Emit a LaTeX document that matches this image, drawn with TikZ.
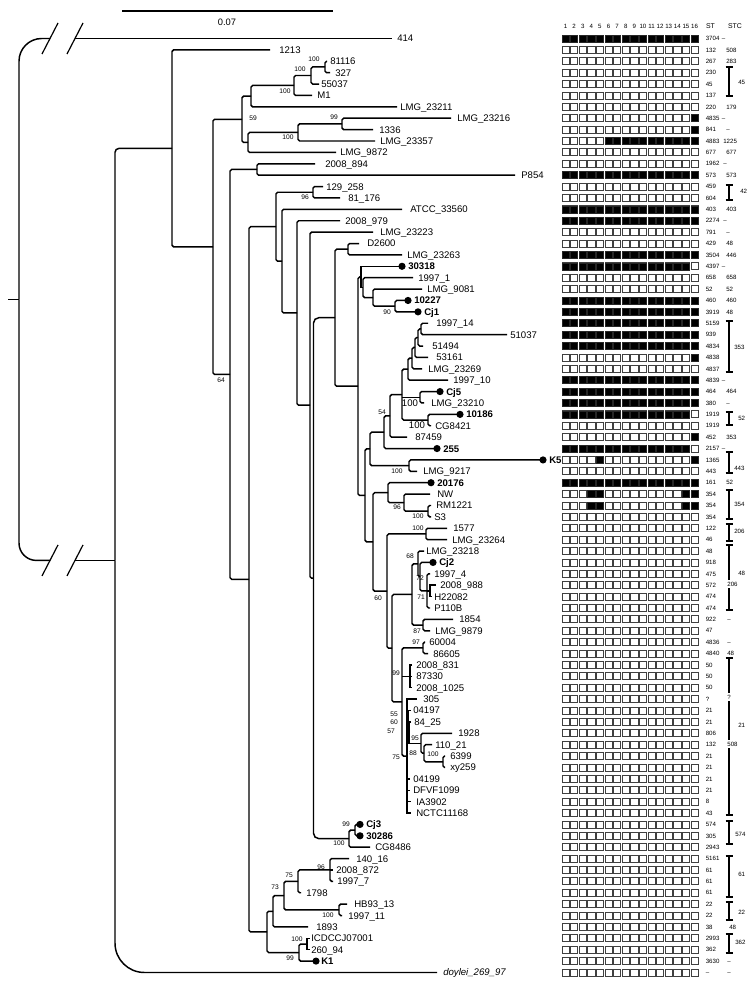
\documentclass[tikz,border=0pt]{standalone}
\usepackage{fontspec}
\setmainfont{Liberation Sans}
\usetikzlibrary{calc}
\newcommand\rowy[1]{38.5+(#1-1)*11.39}
\newcommand\tleaf[4]{\coordinate (L#1) at (#2,{\rowy{#1}}); \node[lab] (T#1) at (#3,{\rowy{#1}}) {#4};}
\newcommand\tdleaf[4]{\coordinate (L#1) at (#2,{\rowy{#1}}); \fill (L#1) circle (2.7pt); \node[lab,font=\fontsize{7.2}{8}\selectfont\bfseries] (T#1) at (#3,{\rowy{#1}}) {#4};}
\newcommand\tileaf[4]{\coordinate (L#1) at (#2,{\rowy{#1}}); \node[lab,font=\fontsize{7.2}{8}\selectfont\itshape] (T#1) at (#3,{\rowy{#1}}) {#4};}
\newcommand\tinode[4]{\coordinate (#1m) at ($(#3)!0.5!(#4)$); \coordinate (#1) at ($(#2,0)!(#1m)!(#2,100)$);}
\newcommand\tedges[4][]{\draw[br,#1] (#3) -| (#2) |- (#4);}
\newcommand\tmid[2]{\draw[br] (#1 |- #2) -- (#2);}
\newcommand\tbs[4]{\node[boot] (#1) at (#2,#3) {#4};}
\begin{document}
\begin{tikzpicture}[x=0.75pt,y=-0.75pt,
  br/.style={line width=1.1pt, rounded corners=1.2pt},
  lab/.style={anchor=west, inner sep=0pt, text height=5.2pt, text depth=0pt, font=\fontsize{7.2}{8}\selectfont},
  boot/.style={inner sep=0pt, font=\fontsize{5}{6}\selectfont},
  gtxt/.style={anchor=west, inner sep=0pt, text height=3.3pt, text depth=0pt, font=\fontsize{4.6}{5}\selectfont},
  wbox/.style={draw=black!75, line width=0.6pt, fill=white},
  bbox/.style={fill=black, draw=black!85, line width=0.4pt},
  brk/.style={line width=0.8pt}]
\useasboundingbox (0,0) rectangle (750,987);
\fill[white] (0,0) rectangle (750,987);
% scale bar
\coordinate (SB1) at (122,11); \coordinate (SB2) at (333,11);
\draw[line width=1pt] (SB1) -- (SB2);
\node[inner sep=0pt, font=\fontsize{7}{8}\selectfont] (SBL) at (227,22) {0.07};
% leaves
\tleaf{1}{392}{397}{414}
\tleaf{2}{270}{279}{1213}
\tleaf{3}{327}{330}{81116}
\tleaf{4}{330}{335}{327}
\tleaf{5}{319}{321}{55037}
\tleaf{6}{312}{317}{M1}
\tleaf{7}{397}{400}{LMG\_23211}
\tleaf{8}{451}{457}{LMG\_23216}
\tleaf{9}{373}{379}{1336}
\tleaf{10}{375}{380}{LMG\_23357}
\tleaf{11}{336}{340}{LMG\_9872}
\tleaf{12}{315}{325}{2008\_894}
\tleaf{13}{515}{521}{P854}
\tleaf{14}{323}{326}{129\_258}
\tleaf{15}{340}{348}{81\_176}
\tleaf{16}{402}{410}{ATCC\_33560}
\tleaf{17}{340}{345}{2008\_979}
\tleaf{18}{373}{380}{LMG\_23223}
\tleaf{19}{359}{367}{D2600}
\tleaf{20}{402}{407}{LMG\_23263}
\tdleaf{21}{402}{408}{30318}
\tleaf{22}{413}{418}{1997\_1}
\tleaf{23}{422}{427}{LMG\_9081}
\tdleaf{24}{408}{414}{10227}
\tdleaf{25}{418}{424}{Cj1}
\tleaf{26}{428}{436}{1997\_14}
\tleaf{27}{507}{510}{51037}
\tleaf{28}{423}{432}{51494}
\tleaf{29}{428}{436}{53161}
\tleaf{30}{422}{428}{LMG\_23269}
\tleaf{31}{448}{453}{1997\_10}
\tdleaf{32}{440}{446}{Cj5}
\tleaf{33}{424}{431}{LMG\_23210}
\tdleaf{34}{460}{466}{10186}
\tleaf{35}{431}{435}{CG8421}
\tleaf{36}{407}{415}{87459}
\tdleaf{37}{437}{443}{255}
\tdleaf{38}{543}{549}{K5}
\tleaf{39}{417}{423}{LMG\_9217}
\tdleaf{40}{431}{437}{20176}
\tleaf{41}{430}{437}{NW}
\tleaf{42}{431}{436}{RM1221}
\tleaf{43}{431}{434}{S3}
\tleaf{44}{447}{453}{1577}
\tleaf{45}{447}{452}{LMG\_23264}
\tleaf{46}{424}{426}{LMG\_23218}
\tdleaf{47}{433}{439}{Cj2}
\tleaf{48}{430}{434}{1997\_4}
\tleaf{49}{436}{440}{2008\_988}
\tleaf{50}{432}{434}{H22082}
\tleaf{51}{430}{434}{P110B}
\tleaf{52}{453}{459}{1854}
\tleaf{53}{430}{435}{LMG\_9879}
\tleaf{54}{425}{429}{60004}
\tleaf{55}{428}{433}{86605}
\tleaf{56}{412}{416}{2008\_831}
\tleaf{57}{412}{416}{87330}
\tleaf{58}{412}{416}{2008\_1025}
\tleaf{59}{417}{423}{305}
\tleaf{60}{411}{413}{04197}
\tleaf{61}{411}{414}{84\_25}
\tleaf{62}{452}{458}{1928}
\tleaf{63}{432}{435}{110\_21}
\tleaf{64}{445}{450}{6399}
\tleaf{65}{445}{450}{xy259}
\tleaf{66}{410}{413}{04199}
\tleaf{67}{410}{413}{DFVF1099}
\tleaf{68}{411}{416}{IA3902}
\tleaf{69}{411}{416}{NCTC11168}
\tdleaf{70}{360}{366}{Cj3}
\tdleaf{71}{360}{366}{30286}
\tleaf{72}{370}{375}{CG8486}
\tleaf{73}{349}{356}{140\_16}
\tleaf{74}{333}{336}{2008\_872}
\tleaf{75}{333}{337}{1997\_7}
\tleaf{76}{301}{306}{1798}
\tleaf{77}{347}{354}{HB93\_13}
\tleaf{78}{342}{348}{1997\_11}
\tleaf{79}{308}{316}{1893}
\tleaf{80}{309.5}{311}{ICDCCJ07001}
\tleaf{81}{309.5}{311}{260\_94}
\tdleaf{82}{316}{321}{K1}
\tileaf{83}{437}{443}{doylei\_269\_97}
% internal nodes
\tinode{N325}{325}{L3}{L4}
\tinode{N311}{311}{N325}{L5}
\tinode{N294}{294}{N311}{L6}
\tinode{N251}{251}{N294}{L7}
\tinode{N342}{342}{L8}{L9}
\tinode{N298}{298}{N342}{L10}
\tinode{N248}{248}{N298}{L11}
\tinode{N242}{242}{N251}{N248}
\tinode{N257}{257}{L12}{L13}
\tinode{N313b}{313}{L14}{L15}
\tinode{N348}{348}{L19}{L20}
\tinode{N395}{395}{L24}{L25}
\tinode{N373u}{373}{L23}{N395}
\tinode{N363}{363}{L22}{N373u}
\tinode{N361}{361}{L21}{N363}
\tinode{N421c}{421}{L26}{L27}
\tinode{N418c}{418}{N421c}{L28}
\tinode{N415}{415}{N418c}{L29}
\tinode{N412c}{412}{N415}{L30}
\tinode{N408}{408}{N412c}{L31}
\tinode{N420c}{420}{L32}{L33}
\tinode{N428}{428}{L34}{L35}
\tinode{N402b}{402}{N408}{N428}
\tinode{N390}{390}{N402b}{L36}
\tinode{N384}{384}{N390}{L37}
\tinode{N409}{409}{L38}{L39}
\tinode{N370}{370}{N384}{N409}
\tinode{N428b}{428}{L42}{L43}
\tinode{N404}{404}{L41}{N428b}
\tinode{N388}{388}{L40}{N404}
\tinode{N426}{426}{L44}{L45}
\tinode{N430}{430}{L49}{L50}
\tinode{N427}{427}{L48}{L51}
\tinode{N420}{420}{L47}{N427}
\tinode{N418}{418}{L46}{N420}
\tinode{N423b}{423}{L52}{L53}
\tinode{N412}{412}{N418}{N423b}
\tinode{N423}{423}{L54}{L55}
\tinode{N410}{410}{L56}{L58}
\tinode{N443}{443}{L64}{L65}
\tinode{N424}{424}{L63}{N443}
\tinode{N421}{421}{L62}{N424}
\tinode{N407b}{409}{L61}{N421}
\tinode{N407a}{408}{L60}{N407b}
\tinode{N407}{407}{L59}{L69}
\tinode{N402}{402}{N423}{N407}
\tinode{N392}{392}{N412}{N402}
\tinode{N387}{387}{N426}{N392}
\tinode{N373}{373}{N388}{N387}
\tinode{N365}{365}{N370}{N373}
\tinode{N358}{358}{N361}{N365}
\tinode{N335}{335}{N348}{N358}
\tinode{N355}{355}{L70}{L71}
\tinode{N349}{349}{N355}{L72}
\tinode{N313}{313.5}{N335}{N349}
\tinode{N310}{310}{L18}{N313}
\tinode{N295}{297}{L17}{N310}
\tinode{N282}{282}{L16}{N295}
\tinode{N276}{276}{N313b}{N282}
\tinode{N330}{330}{L73}{L75}
\tinode{N298b}{298}{N330}{L76}
\tinode{N339}{339}{L77}{L78}
\tinode{N285}{284}{N298b}{N339}
\tinode{N273}{273}{N285}{L79}
\tinode{N307}{307}{L80}{L81}
\tinode{N299}{299}{N307}{L82}
\tinode{N267}{267}{N273}{N299}
\tinode{N249}{249}{N276}{N267}
\tinode{N230}{230}{N257}{N249}
\tinode{N213}{213}{N242}{N230}
\tinode{N172}{172}{L2}{N213}
\tinode{N115}{115}{N172}{L83}
\tinode{R}{19}{L1}{N115}
% edges
\tedges{N325}{L3}{L4}
\tedges{N311}{N325}{L5}
\tedges{N294}{N311}{L6}
\tedges{N251}{N294}{L7}
\tedges{N342}{L8}{L9}
\tedges{N298}{N342}{L10}
\tedges{N248}{N298}{L11}
\tedges{N242}{N251}{N248}
\tedges{N257}{L12}{L13}
\tedges{N313b}{L14}{L15}
\tedges{N348}{L19}{L20}
\tedges{N395}{L24}{L25}
\tedges{N373u}{L23}{N395}
\tedges{N363}{L22}{N373u}
\tedges[sharp corners]{N361}{L21}{N363}
\tedges{N421c}{L26}{L27}
\tedges{N418c}{N421c}{L28}
\tedges{N415}{N418c}{L29}
\tedges{N412c}{N415}{L30}
\tedges{N408}{N412c}{L31}
\tedges{N420c}{L32}{L33}
\tedges{N428}{L34}{L35}
\tedges{N402b}{N408}{N428} \tmid{N402b}{N420c}
\tedges{N390}{N402b}{L36}
\tedges{N384}{N390}{L37}
\tedges{N409}{L38}{L39}
\tedges{N370}{N384}{N409}
\tedges{N428b}{L42}{L43}
\tedges{N404}{L41}{N428b}
\tedges{N388}{L40}{N404}
\tedges{N426}{L44}{L45}
\tedges[sharp corners]{N430}{L49}{L50}
\tedges{N427}{L48}{L51} \tmid{N427}{N430}
\tedges{N420}{L47}{N427}
\tedges{N418}{L46}{N420}
\tedges{N423b}{L52}{L53}
\tedges{N412}{N418}{N423b}
\tedges{N423}{L54}{L55}
\tedges[sharp corners]{N410}{L56}{L58} \tmid{N410}{L57}
\tedges{N443}{L64}{L65}
\tedges{N424}{L63}{N443}
\tedges{N421}{L62}{N424}
\tedges[sharp corners]{N407b}{L61}{N421}
\tedges[sharp corners]{N407a}{L60}{N407b}
\tedges[sharp corners]{N407}{L59}{L69} \tmid{N407}{N407a} \tmid{N407}{L66} \tmid{N407}{L67} \tmid{N407}{L68}
\tedges{N402}{N423}{N407} \tmid{N402}{N410}
\tedges{N392}{N412}{N402}
\tedges{N387}{N426}{N392}
\tedges{N373}{N388}{N387}
\tedges{N365}{N370}{N373}
\tedges{N358}{N361}{N365}
\tedges{N335}{N348}{N358}
\tedges{N355}{L70}{L71}
\tedges{N349}{N355}{L72}
\tedges[rounded corners=4pt]{N313}{N335}{N349}
\tedges{N310}{L18}{N313}
\tedges{N295}{L17}{N310}
\tedges{N282}{L16}{N295}
\tedges{N276}{N313b}{N282}
\tedges{N330}{L73}{L75} \tmid{N330}{L74}
\tedges{N298b}{N330}{L76}
\tedges{N339}{L77}{L78}
\tedges{N285}{N298b}{N339}
\tedges{N273}{N285}{L79}
\tedges[sharp corners]{N307}{L80}{L81}
\tedges{N299}{N307}{L82}
\tedges{N267}{N273}{N299}
\tedges{N249}{N276}{N267}
\tedges{N230}{N257}{N249}
\tedges{N213}{N242}{N230}
\tedges{N172}{L2}{N213}
\draw[br,rounded corners=3pt] (N172) -| (N115);
\draw[br,rounded corners=22pt] (N115) |- (L83);
% root with breaks
\coordinate (R0) at (8,0 |- R);
\draw[br] (R0) -- (R);
\coordinate (B1a) at (50,0 |- L1); \coordinate (B1b) at (75,0 |- L1);
\coordinate (B2a) at (50,0 |- N115); \coordinate (B2b) at (75,0 |- N115);
\draw[br,rounded corners=17pt] (R) |- (B1a);
\draw[br] (B1b) -- (L1);
\draw[br,rounded corners=13pt] (R) |- (B2a);
\draw[br] (B2b) -- (N115);
\draw[line width=0.9pt] ($(B1a)+(-8,15.5)$) -- ($(B1a)+(8,-15.5)$);
\draw[line width=0.9pt] ($(B1b)+(-8,15.5)$) -- ($(B1b)+(8,-15.5)$);
\draw[line width=0.9pt] ($(B2a)+(-8,15.5)$) -- ($(B2a)+(8,-15.5)$);
\draw[line width=0.9pt] ($(B2b)+(-8,15.5)$) -- ($(B2b)+(8,-15.5)$);
% bootstrap values
\tbs{b1}{314}{59.5}{100}
\tbs{b2}{300}{69}{100}
\tbs{b3}{285}{91}{100}
\tbs{b4}{253}{118}{59}
\tbs{b5}{334}{117}{99}
\tbs{b6}{288}{137.5}{100}
\tbs{b7}{305}{197}{96}
\tbs{b8}{221}{380}{64}
\tbs{b9}{387}{312}{90}
\tbs{b10}{382}{412}{54}
\node[lab,anchor=center] (b11) at (410,403) {100};
\node[lab,anchor=center] (b12) at (417,425) {100};
\tbs{b13}{397}{471}{100}
\tbs{b14}{397}{507}{96}
\tbs{b15}{418}{516}{100}
\tbs{b16}{418}{528}{100}
\tbs{b17}{410}{556}{68}
\tbs{b18}{420}{578}{72}
\tbs{b19}{421}{597}{71}
\tbs{b20}{417}{631}{87}
\tbs{b21}{378}{598}{60}
\tbs{b22}{416}{642}{97}
\tbs{b23}{396}{673}{99}
\tbs{b24}{394}{714}{55}
\tbs{b25}{394}{722}{60}
\tbs{b26}{391}{731}{57}
\tbs{b27}{396}{757}{75}
\tbs{b28}{415}{738}{95}
\tbs{b29}{413}{753}{88}
\tbs{b30}{433}{754}{100}
\tbs{b31}{346}{824}{99}
\tbs{b32}{339}{843}{100}
\tbs{b33}{321}{867}{96}
\tbs{b34}{289}{875}{75}
\tbs{b35}{275}{887}{73}
\tbs{b36}{328}{915}{100}
\tbs{b37}{297}{939}{100}
\tbs{b38}{290}{958}{99}
% grid
\foreach \r in {1,...,83}{
  \foreach \c in {1,...,16}{
    \draw[wbox] ({561.9+(\c-1)*8.6},{\rowy{\r}-3.5}) rectangle ++(7.2,7);
  }
}
\foreach \r/\a/\b in {1/1/16,8/16/16,9/16/16,10/6/16,13/1/16,16/1/16,17/1/16,20/1/16,21/1/15,24/1/16,25/1/16,26/1/16,27/1/16,28/1/16,29/16/16,31/1/16,32/1/16,33/1/16,34/1/15,36/16/16,37/1/15,38/5/5,38/16/16,40/1/16,41/4/5,41/15/16,42/4/5,42/15/16}{
  \foreach \c in {\a,...,\b}{
    \draw[bbox] ({561.9+(\c-1)*8.6},{\rowy{\r}-3.5}) rectangle ++(7.2,7);
  }
}
% header
\foreach \c in {1,...,16}{
  \node[gtxt,anchor=center] (h\c) at ({565.5+(\c-1)*8.6},26) {\c};
}
\node[gtxt,anchor=center,font=\fontsize{5.2}{6}\selectfont] (hST) at (710.5,26) {ST};
\node[gtxt,anchor=center,font=\fontsize{5.2}{6}\selectfont] (hSTC) at (735,26) {STC};
% ST column
\foreach \r/\s in {1/3704,2/132,3/267,4/230,5/45,6/137,7/220,8/4835,9/841,10/4883,11/677,12/1962,13/573,14/459,15/604,16/403,17/2274,18/791,19/429,20/3504,21/4397,22/658,23/52,24/460,25/3919,26/5159,27/939,28/4834,29/4838,30/4837,31/4839,32/464,33/380,34/1919,35/1919,36/452,37/2157,38/1365,39/443,40/161,41/354,42/354,43/354,44/122,45/46,46/48,47/918,48/475,49/572,50/474,51/474,52/922,53/47,54/4836,55/4840,56/50,57/50,58/50,59/?,60/21,61/21,62/806,63/132,64/21,65/21,66/21,67/21,68/8,69/43,70/574,71/305,72/2943,73/5161,74/61,75/61,76/61,77/22,78/22,79/38,80/2993,81/362,82/3630,83/–}{
  \node[gtxt] (st\r) at (705.5,{\rowy{\r}}) {\s};
}
% STC single values
\foreach \r/\x/\s in {1/721.5/–,2/726/508,3/726/283,7/726/179,8/721.5/–,9/726/–,10/723/1225,11/726/677,12/723/–,13/726/573,16/726/403,17/723/–,18/726/–,19/726/48,20/726/446,21/721.5/–,22/726/658,23/726/52,24/726/460,25/726/48,31/721.5/–,32/726/464,33/726/–,36/726/353,37/721.5/–,40/726/52,52/727/–,54/727/–,55/727/48,79/729/48,82/727/–,83/727/–}{
  \node[gtxt] (stc\r) at (\x,{\rowy{\r}}) {\s};
}
% STC brackets
\foreach \t/\b in {67/96,185/200,321/372,412/425,452/473,490/519,524/541,545/610,658/815,821/844,856/897,902/920,934/953}{
  \draw[brk] (725.5,\t) -- (733,\t) (729,\t) -- (729,\b) (725.5,\b) -- (733,\b);
}
\node[gtxt] (g45) at (738,82) {45};
\node[gtxt] (g42) at (740,191) {42};
\node[gtxt] (g353) at (734,347) {353};
\node[gtxt] (g52) at (738,418) {52};
\node[gtxt] (g443) at (734,468) {443};
\node[gtxt] (g354) at (734,504) {354};
\node[gtxt] (g206) at (734,531) {206};
\node[gtxt] (g48) at (738,573) {48};
\node[gtxt,anchor=center,fill=white,inner xsep=0pt,inner ysep=1pt] (g206b) at (732.5,584) {206};
\node[gtxt,anchor=center,fill=white,inner xsep=0.3pt,inner ysep=1pt] (gq) at (729,697) {?};
\node[gtxt] (g21) at (738,725) {21};
\node[gtxt,anchor=center,fill=white,inner xsep=0pt,inner ysep=1pt] (g508) at (732.5,744) {508};
\node[gtxt] (g574) at (735,834) {574};
\node[gtxt] (g61) at (738,874) {61};
\node[gtxt] (g22) at (738,912) {22};
\node[gtxt] (g362) at (735,942) {362};
\end{tikzpicture}
\end{document}
